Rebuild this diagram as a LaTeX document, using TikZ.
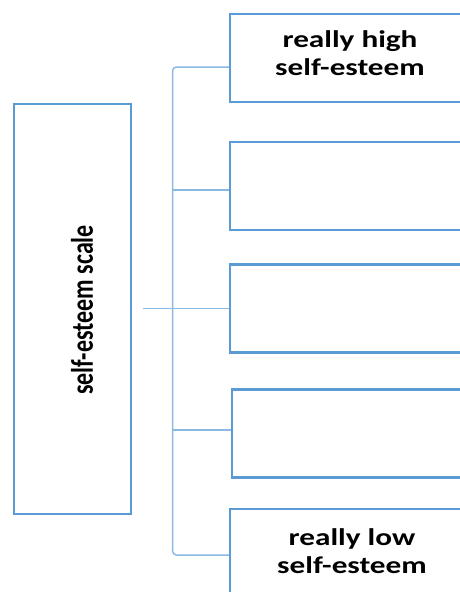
\documentclass[tikz,border=0pt]{standalone}
\usepackage{fontspec}
\setmainfont{Carlito}
\usepackage{graphicx}
\definecolor{boxblue}{RGB}{91,155,213}
\definecolor{linkblue}{RGB}{140,184,228}
\newcommand{\widetext}[1]{\scalebox{1.3}[1]{#1}}
\tikzset{
  stage/.style={draw=boxblue, line width=2.2pt, minimum width=250pt,
    minimum height=88pt, anchor=west, inner sep=0pt},
  scalebox/.style={draw=boxblue, line width=2.2pt, minimum width=117pt,
    minimum height=410pt, inner sep=0pt},
  label/.style={font=\fontsize{24}{28}\selectfont\bfseries, align=center,
    inner sep=0pt, text=black},
  link/.style={draw=linkblue, line width=1.5pt}
}
\begin{document}
\begin{tikzpicture}[x=1pt,y=-1pt]
  \useasboundingbox (0,0) rectangle (460,592);

  % the scale itself
  \node[scalebox] (lbox) at (72.5,309) {};
  \node[label] (ltext) at (82,310) {\scalebox{1.3}[1]{\rotatebox{90}{self-esteem scale}}};

  % the five levels, running off to the right
  \node[stage] (b1) at (229,58) {};
  \node[stage] (b2) at (229,186) {};
  \node[stage] (b3) at (229,308.5) {};
  \node[stage] (b4) at (231,433.5) {};
  \node[stage] (b5) at (229,553) {};

  \node[label] (t1) at (350,53) {\widetext{really high}\\\widetext{self-esteem}};
  \node[label] (t5) at (352,551) {\widetext{really low}\\\widetext{self-esteem}};

  % bracket joining the levels
  \coordinate (bt) at (172.5,67);
  \coordinate (bb) at (172.5,555);
  \coordinate (j2) at (172.5,190);
  \coordinate (j4) at (172.5,430);
  \draw[link, rounded corners=4pt] (b1.west |- bt) -- (bt) -- (bb) -- (b5.west |- bb);
  \draw[link] (j2) -- (j2 -| b2.west);
  \draw[link] (j4) -- (j4 -| b4.west);
  \draw[link, shorten <=11pt] (lbox.east |- b3.west) -- (b3.west);
\end{tikzpicture}
\end{document}
